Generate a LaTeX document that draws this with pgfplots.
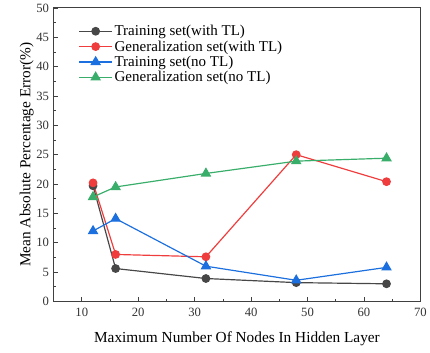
\documentclass[border=0pt]{standalone}
\usepackage{fontspec}
\setmainfont{Liberation Serif}
\usepackage{pgfplots}
\pgfplotsset{compat=1.18}
\definecolor{cblack}{HTML}{474747}
\definecolor{cred}{HTML}{EF3D3D}
\definecolor{cblue}{HTML}{1C6FDE}
\definecolor{cgreen}{HTML}{39AE6A}
\begin{document}
\begin{tikzpicture}
\begin{axis}[
  scale only axis, width=370bp, height=296bp,
  xmin=5, xmax=70, ymin=0, ymax=50,
  xtick={10,20,...,70}, ytick={0,5,...,50},
  minor x tick num=1, minor y tick num=1,
  tick pos=left, tick align=inside,
  major tick length=4bp, minor tick length=2.5bp,
  axis line style={draw=black!75, line width=0.9pt},
  every tick/.style={black!75, line width=0.7pt},
  /pgf/number format/assume math mode=true,
  ticklabel style={font=\fontsize{12.8}{13}\selectfont, text=black!80},
  xticklabel style={yshift=-3bp},
  yticklabel style={xshift=-1bp},
  xlabel={Maximum Number Of Nodes In Hidden Layer},
  ylabel={Mean Absolute Percentage Error(\%)},
  label style={font=\fontsize{15.5}{16}\selectfont},
  xlabel style={yshift=-9bp},
  ylabel style={yshift=-4bp},
  legend style={at={(0.06,0.955)}, anchor=north west, draw=none, fill=none,
    font=\fontsize{15.2}{16}\selectfont, row sep=-0.5bp},
  legend cell align=left,
  legend image code/.code={\draw[mark repeat=2,mark phase=2] plot coordinates {(0bp,0bp) (16.5bp,0bp) (33bp,0bp)};},
  every axis plot/.append style={line width=1.2pt},
]
\addplot[cblack, mark=*, mark size=3.8bp] coordinates {(12,19.7) (16,5.6) (32,3.9) (48,3.2) (64,3.0)};
\addlegendentry{Training set(with TL)}
\addplot[cred, mark=*, mark size=3.8bp] coordinates {(12,20.2) (16,8.0) (32,7.6) (48,25.0) (64,20.4)};
\addlegendentry{Generalization set(with TL)}
\addplot[cblue, mark=triangle*, mark size=5bp] coordinates {(12,12.0) (16,14.1) (32,6.0) (48,3.6) (64,5.8)};
\addlegendentry{Training set(no TL)}
\addplot[cgreen, mark=triangle*, mark size=5bp] coordinates {(12,17.8) (16,19.5) (32,21.8) (48,23.9) (64,24.4)};
\addlegendentry{Generalization set(no TL)}
\end{axis}
\path[use as bounding box] (-54bp,-52bp) rectangle (376bp,304bp);
\end{tikzpicture}
\end{document}
